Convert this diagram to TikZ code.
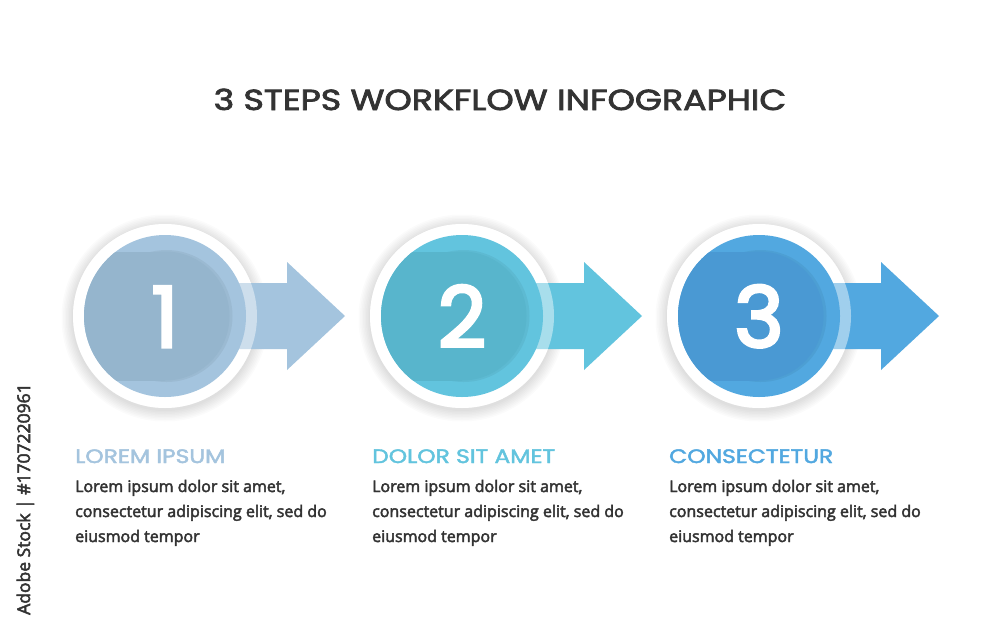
\documentclass[tikz,border=0pt]{standalone}
\usepackage{fontspec}
\setmainfont{Poppins}
\newfontfamily\bodyfont{Open Sans}
\newfontfamily\headfont{Poppins}
\newcommand{\heavy}[2]{\special{pdf:literal direct 2 Tr #1 w}#2\special{pdf:literal direct 0 Tr 1 w}}
\definecolor{cA}{HTML}{A4C4DE}
\definecolor{cAd}{HTML}{95B5CD}
\definecolor{cB}{HTML}{62C4DE}
\definecolor{cBd}{HTML}{58B5CC}
\definecolor{cC}{HTML}{52A8E0}
\definecolor{cCd}{HTML}{4A99D3}
\definecolor{ink}{HTML}{333333}
\newcommand{\drawstage}[5]{%
  \begin{scope}[shift={(#1,316)}]
    \foreach \r in {93,94.5,...,104}{\fill[black,fill opacity=0.017] (0,2) circle (\r pt);}
    \fill[white] (0,0) circle (92pt);
    \fill[#2] (0,-33) -- (122,-33) -- (122,-54) -- (180,0) -- (122,54) -- (122,33) -- (0,33) -- cycle;
    \fill[white,fill opacity=0.45] (0,0) circle (92pt);
    \node[circle,fill=#2,minimum size=162pt,inner sep=0pt] (disc#5) at (0,0) {};
    \begin{scope}
      \clip (0,0) circle (81pt);
      \fill[black,fill opacity=0.05] (1.5,0) circle (66pt);
      \fill[#3] (0,0) circle (64.5pt);
      \fill[#3] (-100,-64.5) rectangle (0,64.5);
    \end{scope}
    \node[anchor=base,text=white,font=\headfont\fontsize{84}{84}\selectfont,inner sep=0pt] (num#5) at (0,31) {\heavy{3}{#4}};
  \end{scope}}
\begin{document}
\begin{tikzpicture}[x=1pt,y=-1pt]
\useasboundingbox (0,0) rectangle (1000,630);
\fill[white] (0,0) rectangle (1000,630);
\tikzset{heading/.style={anchor=base west,inner sep=0pt,font=\headfont\fontsize{19.5}{20}\selectfont},
  bodyline/.style={anchor=base west,inner sep=0pt,text=ink,font=\bodyfont\fontsize{16}{25}\selectfont}}
\node[anchor=base,text=ink,font=\headfont\fontsize{29}{30}\selectfont,inner sep=0pt] (title) at (500,110) {\scalebox{1.2}[1]{\heavy{0.7}{3 STEPS WORKFLOW INFOGRAPHIC}}};
\drawstage{165}{cA}{cAd}{1}{a}
\drawstage{462}{cB}{cBd}{2}{b}
\drawstage{759}{cC}{cCd}{3}{c}
\node[heading,text=cA] (ha) at (75,463) {\scalebox{1.2}[1]{\heavy{0.4}{LOREM IPSUM}}};
\node[heading,text=cB] (hb) at (372,463) {\scalebox{1.2}[1]{\heavy{0.4}{DOLOR SIT AMET}}};
\node[heading,text=cC] (hc) at (669,463) {\scalebox{1.2}[1]{\heavy{0.4}{CONSECTETUR}}};
\foreach \x/\n in {75/a,372/b,669/c}{
  \node[bodyline] (l1\n) at (\x,492) {\heavy{0.45}{Lorem ipsum dolor sit amet,}};
  \node[bodyline] (l2\n) at (\x,517) {\heavy{0.45}{consectetur adipiscing elit, sed do}};
  \node[bodyline] (l3\n) at (\x,542) {\heavy{0.45}{eiusmod tempor}};
}
\node[rotate=90,anchor=base west,inner sep=0pt,text=ink,font=\bodyfont\fontsize{17.5}{18}\selectfont] (mark) at (30,615) {\heavy{0.5}{Adobe Stock | \#1707220961}};
\end{tikzpicture}
\end{document}
